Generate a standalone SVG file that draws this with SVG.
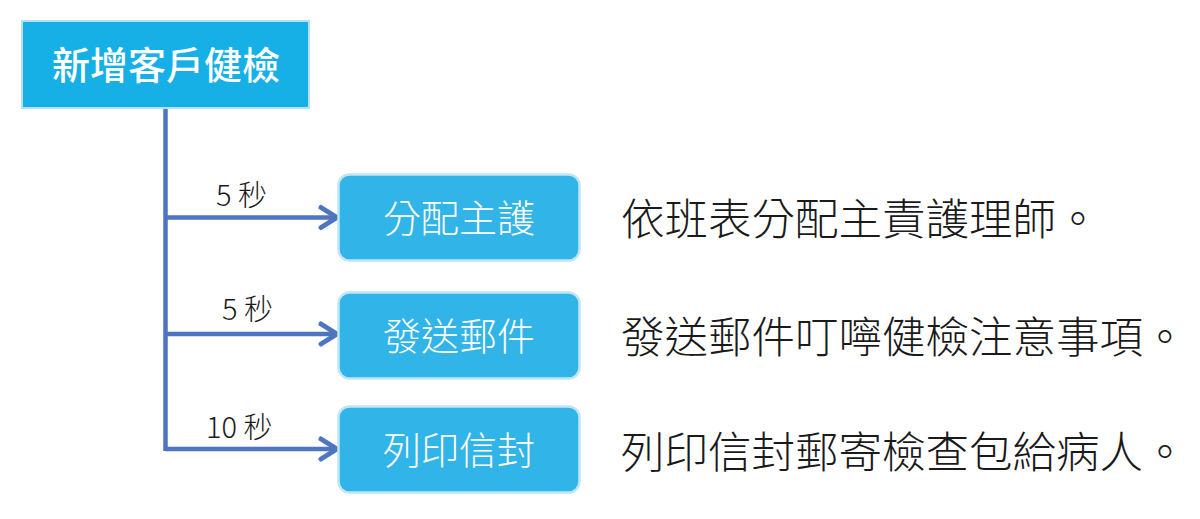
<svg xmlns="http://www.w3.org/2000/svg" width="1200" height="519" viewBox="0 0 1200 519">
<defs>
<style>
.main{fill:#16b0e6;stroke:#b4e2f2;stroke-width:2}
.step{fill:#31b4e8;stroke:#bfe6f4;stroke-width:2.5}
.wt{fill:#ffffff;font-family:"Noto Sans CJK TC","Noto Sans CJK SC",sans-serif;text-anchor:middle}
.lbl{fill:#1a1a1a;font-family:"Noto Sans CJK TC","Noto Sans CJK SC",sans-serif;font-size:29px;font-weight:300}
.desc{fill:#1a1a1a;font-family:"Noto Sans CJK TC","Noto Sans CJK SC",sans-serif;font-size:43.5px;font-weight:200}
.ln{fill:none;stroke:#4d75c0;stroke-width:4.5}
.ah{fill:none;stroke:#4d75c0;stroke-width:5;stroke-linecap:round;stroke-linejoin:round}
</style>
</defs>
<rect width="1200" height="519" fill="#ffffff"/>
<g id="connectors">
<path class="ln" d="M165.5 108 V451"/>
<path class="ln" d="M165.5 217.5 H334"/>
<path class="ln" d="M165.5 334 H334"/>
<path class="ln" d="M165.5 449 H334"/>
<path class="ah" d="M321 207.5 L337 217.5 L321 227.5"/>
<path class="ah" d="M321 324 L337 334 L321 344"/>
<path class="ah" d="M321 439 L337 449 L321 459"/>
<text class="lbl" x="216" y="206">5 秒</text>
<text class="lbl" x="222" y="320">5 秒</text>
<text class="lbl" x="206" y="438">10 秒</text>
</g>
<g id="node-main">
<rect class="main" x="22" y="21" width="287" height="87"/>
<text class="wt" x="166" y="79" font-size="38" font-weight="500">新增客戶健檢</text>
</g>
<g id="node-assign">
<rect class="step" x="338.5" y="174.5" width="241" height="86" rx="11"/>
<text class="wt" x="459" y="232" font-size="38" font-weight="300">分配主護</text>
</g>
<g id="node-mail">
<rect class="step" x="338.5" y="292.5" width="241" height="86" rx="11"/>
<text class="wt" x="459" y="350" font-size="38" font-weight="300">發送郵件</text>
</g>
<g id="node-print">
<rect class="step" x="338.5" y="406.5" width="241" height="86" rx="11"/>
<text class="wt" x="459" y="464" font-size="38" font-weight="300">列印信封</text>
</g>
<g id="desc-assign"><text class="desc" x="621" y="235">依班表分配主責護理師。</text></g>
<g id="desc-mail"><text class="desc" x="621" y="353">發送郵件叮嚀健檢注意事項。</text></g>
<g id="desc-print"><text class="desc" x="621" y="468">列印信封郵寄檢查包給病人。</text></g>
</svg>
